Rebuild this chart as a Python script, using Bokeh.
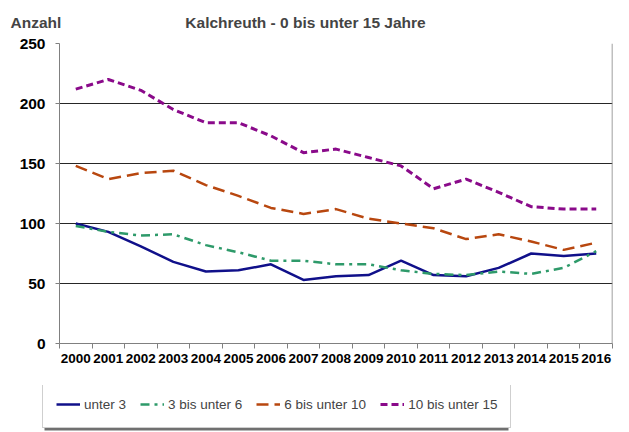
from bokeh.plotting import figure
from bokeh.layouts import column
from bokeh.models import FixedTicker, Legend, LegendItem, Label, Range1d, Span, BoxAnnotation
from bokeh.embed import file_html
from bokeh.resources import INLINE

years = [str(y) for y in range(2000, 2017)]
unter3 = [100, 93, 81, 68, 60, 61, 66, 53, 56, 57, 69, 57, 56, 63, 75, 73, 75]
bis6 = [98, 93, 90, 91, 82, 76, 69, 69, 66, 66, 61, 58, 57, 60, 58, 63, 77]
bis10 = [148, 137, 142, 144, 132, 123, 113, 108, 112, 104, 100, 96, 87, 91, 85, 78, 84]
bis15 = [212, 220, 211, 195, 184, 184, 173, 159, 162, 155, 148, 129, 137, 126, 114, 112, 112]
y_ticks = [0, 50, 100, 150, 200, 250]

series_names = ["unter 3", "3 bis unter 6", "6 bis unter 10", "10 bis unter 15"]
series = [unter3, bis6, bis10, bis15]
styles = [
    dict(line_color="#10108a", line_width=2.5),
    dict(line_color="#2e9a6a", line_width=2.5, line_dash="9 5 3 5"),
    dict(line_color="#b8470f", line_width=2.5, line_dash="12 6"),
    dict(line_color="#8a0a8a", line_width=3, line_dash="7 4"),
]

FONT = "Liberation Sans"
W = 621


def bare(fig):
    fig.outline_line_color = None
    fig.background_fill_color = "white"
    fig.border_fill_color = "white"
    fig.xgrid.grid_line_color = None
    fig.ygrid.grid_line_color = None
    return fig


# ---- header with title texts
head = bare(figure(width=W, height=35, output_backend="svg", toolbar_location=None,
                   x_range=Range1d(0, W), y_range=Range1d(0, 35),
                   x_axis_location=None, y_axis_location=None, frame_align=False,
                   min_border_left=0, min_border_right=0, min_border_top=0, min_border_bottom=0))
head.add_layout(Label(x=305, y=13, x_units="screen", y_units="screen", text="Kalchreuth - 0 bis unter 15 Jahre",
                      text_font=FONT, text_font_style="bold", text_font_size="15.5px", text_align="center",
                      text_baseline="middle"))
head.add_layout(Label(x=10, y=13, x_units="screen", y_units="screen", text="Anzahl",
                      text_font=FONT, text_font_style="bold", text_font_size="15.5px", text_align="left",
                      text_baseline="middle"))

# ---- main chart
p = figure(width=W, height=350, output_backend="svg", toolbar_location=None,
           x_range=Range1d(0, len(years)), y_range=Range1d(0, 250), frame_align=False,
           min_border_left=59, min_border_right=9, min_border_top=8, min_border_bottom=42)

xs = [i + 0.5 for i in range(len(years))]
for vals, st in zip(series, styles):
    p.line(xs, vals, **st)

p.xaxis.ticker = FixedTicker(ticks=xs, minor_ticks=list(range(len(years) + 1)))
p.xaxis.major_label_overrides = {x: y for x, y in zip(xs, years)}
p.xaxis.major_tick_out = 0
p.xaxis.major_tick_in = 0
p.xaxis.minor_tick_out = 5
p.xaxis.minor_tick_in = 0
p.xaxis.minor_tick_line_color = "#808080"
p.xaxis.axis_line_color = "#808080"
p.xaxis.major_label_text_font = FONT
p.xaxis.major_label_text_font_style = "bold"
p.xaxis.major_label_text_font_size = "13.5px"
p.xaxis.major_label_text_color = "#000000"
p.xaxis.major_label_standoff = 5

p.yaxis.ticker = FixedTicker(ticks=y_ticks)
p.yaxis.minor_tick_line_color = None
p.yaxis.major_tick_out = 4
p.yaxis.major_tick_in = 0
p.yaxis.major_tick_line_color = "#808080"
p.yaxis.axis_line_color = "#808080"
p.yaxis.major_label_text_font = FONT
p.yaxis.major_label_text_font_style = "bold"
p.yaxis.major_label_text_font_size = "15.5px"
p.yaxis.major_label_text_color = "#000000"
p.yaxis.major_label_standoff = 10

p.xgrid.grid_line_color = None
p.ygrid.grid_line_color = "#000000"
p.ygrid.grid_line_alpha = 0.85
p.ygrid.ticker = FixedTicker(ticks=[50, 100, 150, 200])
p.outline_line_color = None
p.background_fill_color = "white"
p.border_fill_color = "white"
p.add_layout(Span(location=len(years), dimension="height", line_color="#808080", line_width=1.5))

# ---- legend strip (the series are drawn out of view here; only their legend samples show)
leg = bare(figure(width=W, height=47, output_backend="svg", toolbar_location=None,
                  x_range=Range1d(100, 101), y_range=Range1d(0, 1), frame_align=False,
                  x_axis_location=None, y_axis_location=None,
                  min_border_left=0, min_border_right=0, min_border_top=0, min_border_bottom=0))
rs = [leg.line(xs, vals, **st) for vals, st in zip(series, styles)]
leg.add_layout(BoxAnnotation(left=44, right=508, bottom=2, top=44,
                             left_units="screen", right_units="screen",
                             bottom_units="screen", top_units="screen",
                             fill_color="#707070", fill_alpha=1.0, line_color=None))
legend = Legend(items=[LegendItem(label=n, renderers=[r]) for n, r in zip(series_names, rs)],
                orientation="horizontal", location=(42, 4),
                label_text_font=FONT, label_text_font_size="13.5px",
                glyph_width=24, label_standoff=4, spacing=14,
                padding=13, margin=0, background_fill_alpha=1.0,
                border_line_color="#a0a0a0", border_line_width=1)
leg.add_layout(legend, "center")

layout = column(head, p, leg, spacing=0)
open("out.html", "w").write(file_html(layout, INLINE))
